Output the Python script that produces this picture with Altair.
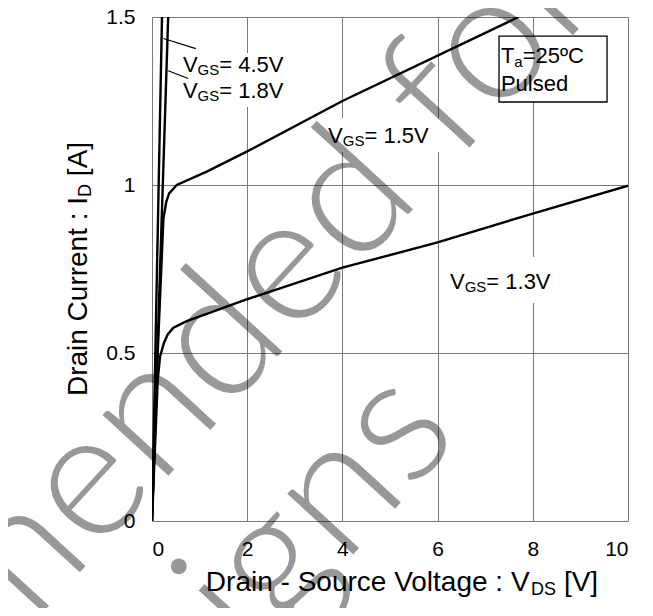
import altair as alt
import pandas as pd

# ---------------- data ----------------
vds_45 = [0.0, 0.21]
id_45 = [0.0, 1.5]

vds_18 = [0.0, 0.34]
id_18 = [0.0, 1.5]

vds_15 = [0.0, 0.12, 0.24, 0.30, 0.36, 0.52, 1.15, 2.0, 4.0, 7.7]
id_15 = [0.0, 0.50, 0.90, 0.95, 0.975, 1.0, 1.04, 1.10, 1.25, 1.5]

vds_13 = [0.0, 0.12, 0.17, 0.25, 0.33, 0.45, 0.73, 2.0, 4.0, 6.0, 8.0, 10.0]
id_13 = [0.0, 0.42, 0.49, 0.53, 0.555, 0.575, 0.595, 0.66, 0.754, 0.829, 0.915, 0.998]

series_names = ["4.5V", "1.8V", "1.5V", "1.3V"]
x_ticks = [0, 2, 4, 6, 8, 10]
y_ticks = [0, 0.5, 1, 1.5]

rows = []
for name, xs_, ys_ in zip(series_names, [vds_45, vds_18, vds_15, vds_13], [id_45, id_18, id_15, id_13]):
    for i, (a, b) in enumerate(zip(xs_, ys_)):
        rows.append({"series": name, "order": i, "vds": a, "id": b})
df = pd.DataFrame(rows)

# ---------------- helpers ----------------
ARIAL = {' ': 278, '-': 333, '.': 278, ':': 278, '=': 584, '[': 278, ']': 278,
         'A': 667, 'C': 722, 'D': 722, 'G': 778, 'I': 278, 'P': 667, 'S': 667, 'T': 611, 'V': 667,
         'a': 556, 'c': 500, 'd': 556, 'e': 556, 'g': 556, 'i': 222, 'l': 222, 'n': 556, 'o': 556,
         'r': 333, 's': 500, 't': 278, 'u': 556, 'º': 365}


def tw(s, size):
    return sum(ARIAL.get(c, 556) for c in s) * size / 1000.0


FONT = "Liberation Sans"
W, H = 476, 504
xsc = alt.Scale(domain=[0, 10], nice=False, zero=False)
ysc = alt.Scale(domain=[0, 1.5], nice=False, zero=False)

X_AX = alt.Axis(values=x_ticks, grid=True, ticks=False, domain=False, labelFontSize=21,
                labelPadding=17, title=None, labelFont=FONT, labelColor="black",
                gridColor="#7a7a7a", gridWidth=1)
Y_AX = alt.Axis(values=y_ticks, format="~g", grid=True, ticks=False, domain=False,
                labelFontSize=21, labelPadding=17, title=None, labelFont=FONT,
                labelColor="black", gridColor="#7a7a7a", gridWidth=1)


def X(field):
    return alt.X(field, scale=xsc, axis=X_AX)


def Y(field):
    return alt.Y(field, scale=ysc, axis=Y_AX)


def px_text(text, x, y, size, angle=0, align="left", font=FONT, color="black", opacity=1.0, weight="normal"):
    return alt.Chart(pd.DataFrame({"t": [text]})).mark_text(
        align=align, baseline="alphabetic", fontSize=size, font=font, angle=angle,
        color=color, opacity=opacity, fontWeight=weight
    ).encode(x=alt.value(x), y=alt.value(y), text="t:N")


def data_text(dframe, dx, dy, size):
    return alt.Chart(dframe).mark_text(
        align="left", baseline="alphabetic", fontSize=size, font=FONT, color="black", dx=dx, dy=dy
    ).encode(x=X("x:Q"), y=Y("y:Q"), text="t:N")


# ---------------- curves ----------------
curves = alt.Chart(df).mark_line(color="black", strokeWidth=2.4, clip=True).encode(
    x=X("vds:Q"), y=Y("id:Q"), detail="series:N", order="order:Q",
)

# white backgrounds behind labels (they break the grid lines)
bg = pd.DataFrame({
    "x": [0.59, 3.64, 6.20, 7.29],
    "x2": [2.90, 6.05, 8.53, 9.56],
    "y": [1.393, 1.199, 0.786, 1.443],
    "y2": [1.232, 1.098, 0.649, 1.247],
})
bgs = alt.Chart(bg.iloc[:3]).mark_rect(fill="white").encode(
    x=X("x:Q"), x2="x2:Q", y=Y("y:Q"), y2="y2:Q")
box = alt.Chart(bg.iloc[3:]).mark_rect(fill="white", stroke="black", strokeWidth=1.3).encode(
    x=X("x:Q"), x2="x2:Q", y=Y("y:Q"), y2="y2:Q")

# leader lines
leaders = alt.Chart(pd.DataFrame({
    "x": [0.24, 0.34], "x2": [0.92, 0.76], "y": [1.436, 1.340], "y2": [1.406, 1.317]
})).mark_rule(color="black", strokeWidth=1.3).encode(
    x=X("x:Q"), x2="x2:Q", y=Y("y:Q"), y2="y2:Q")

# VGS labels
LS, SS = 22, 15
lab_x = [0.65, 0.65, 3.70, 6.26]
lab_y = [1.337, 1.258, 1.126, 0.690]
vdf = pd.DataFrame({"x": lab_x, "y": lab_y, "t": ["V"] * 4})
gdf = pd.DataFrame({"x": lab_x, "y": lab_y, "t": ["GS"] * 4})
rdf = pd.DataFrame({"x": lab_x, "y": lab_y, "t": ["=  " + s for s in series_names]})
lab_v = data_text(vdf, 0, 0, LS)
lab_g = data_text(gdf, tw("V", LS), 3, SS)
lab_r = data_text(rdf, tw("V", LS) + tw("GS", SS), 0, LS)

# Ta box text
tdf = pd.DataFrame({"x": [7.33], "y": [1.362], "t": ["T"]})
adf = pd.DataFrame({"x": [7.33], "y": [1.362], "t": ["a"]})
edf = pd.DataFrame({"x": [7.33], "y": [1.362], "t": ["=25ºC"]})
pdf_ = pd.DataFrame({"x": [7.33], "y": [1.280], "t": ["Pulsed"]})
t1 = data_text(tdf, 0, 0, LS)
t2 = data_text(adf, tw("T", LS), 4, SS)
t3 = data_text(edf, tw("T", LS) + tw("a", SS), 0, LS)
t4 = data_text(pdf_, 0, 0, LS)

# axis titles with subscripts (the gap before the bracket is added as an offset)
TS, TSS = 28, 18
xa, xb, xc = "Drain - Source Voltage : V", "DS", "[V]"
gap = tw(" ", TS)
xtot = tw(xa, TS) + tw(xb, TSS) + gap + tw(xc, TS)
x0 = 250 - xtot / 2
xt_base = 574
xt1 = px_text(xa, x0, xt_base, TS)
xt2 = px_text(xb, x0 + tw(xa, TS), xt_base + 4, TSS)
xt3 = px_text(xc, x0 + tw(xa, TS) + tw(xb, TSS) + gap, xt_base, TS)

ya, yb, yc = "Drain Current : I", "D", "[A]"
ytot = tw(ya, TS) + tw(yb, TSS) + gap + tw(yc, TS)
y0 = 252 + ytot / 2
yt_base = -65
yt1 = px_text(ya, yt_base, y0, TS, angle=270)
yt2 = px_text(yb, yt_base + 4, y0 - tw(ya, TS), TSS, angle=270)
yt3 = px_text(yc, yt_base, y0 - tw(ya, TS) - tw(yb, TSS) - gap, TS, angle=270)

# watermark
WM_ANGLE = 312.55
wm1 = px_text("Not recommended for", 454, -18, 180, angle=WM_ANGLE, align="right",
              font="Lato", color="black", opacity=0.4, weight=300)
wm2 = px_text("new designs", 310, 419, 180, angle=WM_ANGLE, align="right",
              font="Lato", color="black", opacity=0.4, weight=300)

chart = alt.layer(
    curves, bgs, leaders, box, lab_v, lab_g, lab_r, t1, t2, t3, t4,
    xt1, xt2, xt3, yt1, yt2, yt3, wm1, wm2
).properties(
    width=W, height=H,
    autosize=alt.AutoSizeParams(type="none"),
    padding={"left": 144, "top": 9, "right": 17, "bottom": 87},
).configure_view(
    stroke="#404040", strokeWidth=1
).configure(background="white")

chart.save("out.html", embed_options={"renderer": "svg", "actions": False})
